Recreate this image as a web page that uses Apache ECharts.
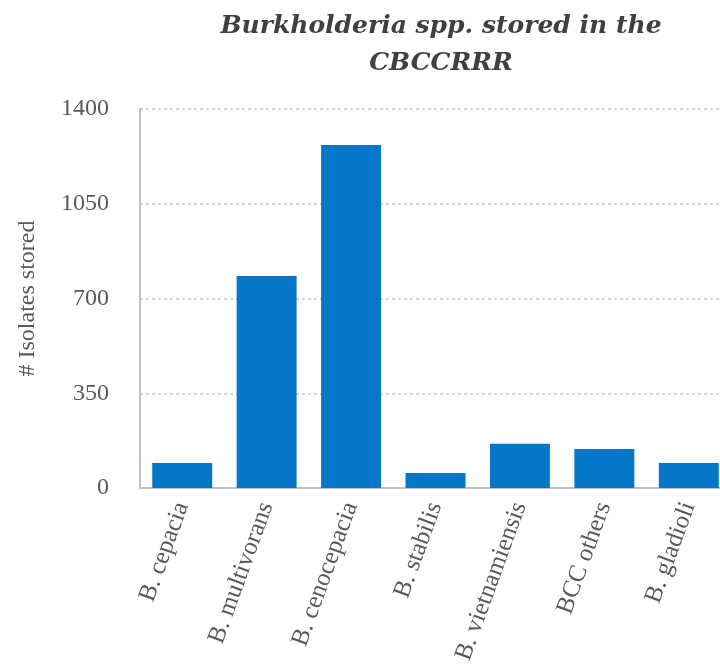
<!DOCTYPE html>
<html>
<head>
<meta charset="utf-8">
<script src="https://cdn.jsdelivr.net/npm/echarts@6/dist/echarts.min.js"></script>
<style>html,body{margin:0;padding:0;background:#fff}#c{width:720px;height:670px}</style>
</head>
<body>
<div id="c"></div>
<script>
var categories = ['B. cepacia', 'B. multivorans', 'B. cenocepacia', 'B. stabilis', 'B. vietnamiensis', 'BCC others', 'B. gladioli'];
var isolates = [92, 783, 1267, 55, 163, 144, 92];
var yTicks = [0, 350, 700, 1050, 1400];

var serif = '"Liberation Serif", "DejaVu Serif", serif';
var chart = echarts.init(document.getElementById('c'), null, {renderer: 'canvas'});
chart.setOption({
  animation: false,
  backgroundColor: '#ffffff',
  title: {
    text: 'Burkholderia spp. stored in the\nCBCCRRR',
    left: 436,
    textAlign: 'center',
    top: 3,
    textStyle: {fontFamily: '"DejaVu Serif", serif', fontSize: 25, fontWeight: 'bold', fontStyle: 'italic', color: '#404040', lineHeight: 37}
  },
  grid: {left: 140, width: 591, top: 109, height: 379, containLabel: false, outerBoundsMode: 'none'},
  xAxis: {
    type: 'category',
    data: categories,
    axisLine: {show: true, lineStyle: {color: '#bfbfbf', width: 2}},
    axisTick: {show: false},
    axisLabel: {rotate: 70, margin: 15, fontFamily: serif, fontSize: 25, color: '#595959'}
  },
  yAxis: {
    type: 'value',
    min: yTicks[0],
    max: yTicks[yTicks.length - 1],
    interval: 350,
    name: '# Isolates stored',
    nameLocation: 'middle',
    nameGap: 100,
    nameRotate: 90,
    nameTextStyle: {fontFamily: serif, fontSize: 24, color: '#595959'},
    axisLine: {show: true, lineStyle: {color: '#bfbfbf', width: 2}},
    axisTick: {show: false},
    axisLabel: {margin: 31, fontFamily: serif, fontSize: 24, color: '#595959', formatter: function (v) { return String(v); }},
    splitLine: {show: true, lineStyle: {color: '#c8c8c8', type: [3, 3], width: 1.5}}
  },
  series: [{
    type: 'bar',
    data: isolates,
    barCategoryGap: '29%',
    itemStyle: {color: '#0477c9'}
  }]
});
</script>
</body>
</html>
